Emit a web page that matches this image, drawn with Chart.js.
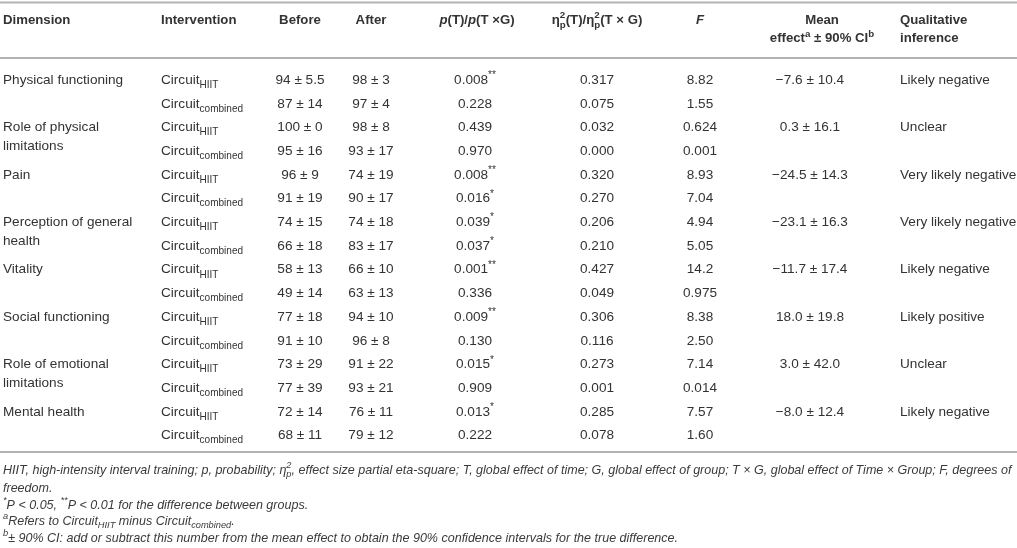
<!DOCTYPE html>
<html>
<head>
<meta charset="utf-8">
<script src="https://cdn.jsdelivr.net/npm/chart.js@4.4.1/dist/chart.umd.min.js"></script>
<style>
html,body{margin:0;padding:0;background:#fff;}
#wrap{width:1017px;height:548px;position:relative;}
canvas{display:block;}
</style>
</head>
<body>
<div id="wrap"><canvas id="c" width="1017" height="548"></canvas></div>
<script>
// ---------------- DATA ----------------
const dimensions = [
  ['Physical functioning'],
  ['Role of physical', 'limitations'],
  ['Pain'],
  ['Perception of general', 'health'],
  ['Vitality'],
  ['Social functioning'],
  ['Role of emotional', 'limitations'],
  ['Mental health']
];
const groups = ['HIIT', 'combined'];
const beforeMean = [94, 87, 100, 95, 96, 91, 74, 66, 58, 49, 77, 91, 73, 77, 72, 68];
const beforeSD   = ['5.5', '14', '0', '16', '9', '19', '15', '18', '13', '14', '18', '10', '29', '39', '14', '11'];
const afterMean  = [98, 97, 98, 93, 74, 90, 74, 83, 66, 63, 94, 96, 91, 93, 76, 79];
const afterSD    = ['3', '4', '8', '17', '19', '17', '18', '17', '10', '13', '10', '8', '22', '21', '11', '12'];
const pTime      = ['0.008', '0.228', '0.439', '0.970', '0.008', '0.016', '0.039', '0.037', '0.001', '0.336', '0.009', '0.130', '0.015', '0.909', '0.013', '0.222'];
const pStars     = ['**', '', '', '', '**', '*', '*', '*', '**', '', '**', '', '*', '', '*', ''];
const etaSq      = ['0.317', '0.075', '0.032', '0.000', '0.320', '0.270', '0.206', '0.210', '0.427', '0.049', '0.306', '0.116', '0.273', '0.001', '0.285', '0.078'];
const fValues    = ['8.82', '1.55', '0.624', '0.001', '8.93', '7.04', '4.94', '5.05', '14.2', '0.975', '8.38', '2.50', '7.14', '0.014', '7.57', '1.60'];
const meanEffect = ['\u22127.6', '0.3', '\u221224.5', '\u221223.1', '\u221211.7', '18.0', '3.0', '\u22128.0'];
const ci90       = ['10.4', '16.1', '14.3', '16.3', '17.4', '19.8', '42.0', '12.4'];
const inference  = ['Likely negative', 'Unclear', 'Very likely negative', 'Very likely negative', 'Likely negative', 'Likely positive', 'Unclear', 'Likely negative'];

// ---------------- LAYOUT / STYLE ----------------
const W = 1017, H = 548;
const FONT = '"Liberation Sans", Arial, Helvetica, sans-serif';
const TEXT = '#333333';
const RULE = '#b3b3b3';
const rowFirstPx = 79, rowStep = 23.7;           // row centres
const yMin = -rowFirstPx / rowStep;
const yMax = yMin + H / rowStep;
const toRow = px => (px - rowFirstPx) / rowStep; // header / rule positions in row units
const cols = {
  dim:   {x: 3,   align: 'left'},
  grp:   {x: 161, align: 'left'},
  bef:   {x: 300, align: 'center'},
  aft:   {x: 371, align: 'center'},
  p:     {x: 475, align: 'center', hx: 477},
  eta:   {x: 597, align: 'center', hx: 597},
  f:     {x: 700, align: 'center', hx: 700},
  mean:  {x: 810, align: 'center', hx: 822},
  inf:   {x: 900, align: 'left'}
};
const hdrLine1 = toRow(19), hdrLine2 = toRow(37.5);
const ruleTop = toRow(2.5), ruleHdr = toRow(58), ruleBot = toRow(452);
const labelLineGap = 0.79; // second line of a dimension label (row units)
const footLines = [469, 487, 504, 520, 537].map(toRow);
const BODY = 13.6, HEAD = 13.2;

// ---------------- RICH TEXT ----------------
function fontOf(p, size) {
  return (p.i ? 'italic ' : '') + (p.b ? 'bold ' : '') + size + 'px ' + FONT;
}
function normParts(segs, bold, italic) {
  return segs.map(s => typeof s === 'string' ? {t: s} : s).map(p => Object.assign({b: bold, i: italic || p.i}, p));
}
function partWidths(ctx, parts, base) {
  const small = base * 0.74;
  return parts.map(p => {
    if (p.stack) {
      ctx.font = fontOf(p, small);
      return Math.max(ctx.measureText(p.stack[0]).width, ctx.measureText(p.stack[1]).width);
    }
    ctx.font = fontOf(p, (p.sub || p.sup) ? small : base);
    return ctx.measureText(p.t).width;
  });
}
function richWidth(ctx, segs, base, bold, italic) {
  return partWidths(ctx, normParts(segs, bold, italic), base).reduce((a, b) => a + b, 0);
}
function drawRich(ctx, segs, x, y, align, base, bold, italic) {
  const small = base * 0.74;
  const parts = normParts(segs, bold, italic);
  const widths = partWidths(ctx, parts, base);
  const total = widths.reduce((a, b) => a + b, 0);
  let cx = align === 'center' ? x - total / 2 : (align === 'right' ? x - total : x);
  const baseY = y + base * 0.36;
  ctx.textAlign = 'left';
  ctx.textBaseline = 'alphabetic';
  parts.forEach((p, k) => {
    if (p.stack) {
      ctx.font = fontOf(p, small);
      ctx.fillText(p.stack[0], cx, baseY - base * 0.42);
      ctx.fillText(p.stack[1], cx, baseY + base * 0.3);
    } else if (p.sub) {
      ctx.font = fontOf(p, small);
      ctx.fillText(p.t, cx, baseY + base * 0.3);
    } else if (p.sup) {
      ctx.font = fontOf(p, small);
      ctx.fillText(p.t, cx, baseY - base * 0.42);
    } else {
      ctx.font = fontOf(p, base);
      ctx.fillText(p.t, cx, baseY);
    }
    cx += widths[k];
  });
}

// ---------------- TABLE PLUGIN ----------------
const tablePlugin = {
  id: 'tableText',
  afterDatasetsDraw(chart) {
    const ctx = chart.ctx, xs = chart.scales.x, ys = chart.scales.y;
    const X = v => xs.getPixelForValue(v), Y = v => ys.getPixelForValue(v);
    ctx.save();
    // rules
    ctx.strokeStyle = RULE; ctx.lineWidth = 2;
    [ruleTop, ruleHdr, ruleBot].forEach(r => {
      ctx.beginPath(); ctx.moveTo(xs.left, Y(r)); ctx.lineTo(xs.right, Y(r)); ctx.stroke();
    });
    ctx.fillStyle = TEXT;
    // header
    const h1 = Y(hdrLine1), h2 = Y(hdrLine2);
    drawRich(ctx, ['Dimension'], X(cols.dim.x), h1, 'left', HEAD, true);
    drawRich(ctx, ['Intervention'], X(cols.grp.x), h1, 'left', HEAD, true);
    drawRich(ctx, ['Before'], X(cols.bef.x), h1, 'center', HEAD, true);
    drawRich(ctx, ['After'], X(cols.aft.x), h1, 'center', HEAD, true);
    drawRich(ctx, [{t: 'p', i: true}, '(T)/', {t: 'p', i: true}, '(T \u00d7G)'], X(cols.p.hx), h1, 'center', HEAD, true);
    drawRich(ctx, ['\u03b7', {stack: ['2', 'p']}, '(T)/\u03b7', {stack: ['2', 'p']}, '(T \u00d7 G)'], X(cols.eta.hx), h1, 'center', HEAD, true);
    drawRich(ctx, [{t: 'F', i: true}], X(cols.f.hx), h1, 'center', HEAD, true);
    drawRich(ctx, ['Mean'], X(cols.mean.hx), h1, 'center', HEAD, true);
    drawRich(ctx, ['effect', {t: 'a', sup: true}, ' \u00b1 90% CI', {t: 'b', sup: true}], X(cols.mean.hx), h2, 'center', HEAD, true);
    drawRich(ctx, ['Qualitative'], X(cols.inf.x), h1, 'left', HEAD, true);
    drawRich(ctx, ['inference'], X(cols.inf.x), h2, 'left', HEAD, true);
    // body rows
    for (let i = 0; i < beforeMean.length; i++) {
      const y = Y(i);
      const d = Math.floor(i / 2);
      if (i % 2 === 0) {
        dimensions[d].forEach((ln, k) => drawRich(ctx, [ln], X(cols.dim.x), Y(i + k * labelLineGap), 'left', BODY));
        drawRich(ctx, [meanEffect[d] + ' \u00b1 ' + ci90[d]], X(cols.mean.x), y, 'center', BODY);
        drawRich(ctx, [inference[d]], X(cols.inf.x), y, 'left', BODY);
      }
      drawRich(ctx, ['Circuit', {t: groups[i % 2], sub: true}], X(cols.grp.x), y, 'left', BODY);
      drawRich(ctx, [beforeMean[i] + ' \u00b1 ' + beforeSD[i]], X(cols.bef.x), y, 'center', BODY);
      drawRich(ctx, [afterMean[i] + ' \u00b1 ' + afterSD[i]], X(cols.aft.x), y, 'center', BODY);
      const pSeg = [pTime[i]];
      if (pStars[i]) pSeg.push({t: pStars[i], sup: true});
      drawRich(ctx, pSeg, X(cols.p.x), y, 'center', BODY);
      drawRich(ctx, [etaSq[i]], X(cols.eta.x), y, 'center', BODY);
      drawRich(ctx, [fValues[i]], X(cols.f.x), y, 'center', BODY);
    }
    // footnotes
    const foot = [
      ['HIIT, high-intensity interval training; p, probability; \u03b7', {stack: ['2', 'p']}, ', effect size partial eta-square; T, global effect of time; G, global effect of group; T \u00d7 G, global effect of Time \u00d7 Group; F, degrees of'],
      ['freedom.'],
      [{t: '*', sup: true}, 'P < 0.05, ', {t: '**', sup: true}, 'P < 0.01 for the difference between groups.'],
      [{t: 'a', sup: true}, 'Refers to Circuit', {t: 'HIIT', sub: true}, ' minus Circuit', {t: 'combined', sub: true}, '.'],
      [{t: 'b', sup: true}, '\u00b1 90% CI: add or subtract this number from the mean effect to obtain the 90% confidence intervals for the true difference.']
    ];
    const FS = 11 * 1009 / richWidth(ctx, foot[0], 11, false, true);
    ctx.fillStyle = '#3a3a3a';
    foot.forEach((segs, k) => drawRich(ctx, segs, X(3), Y(footLines[k]), 'left', FS, false, true));
    ctx.restore();
  }
};

// ---------------- CHART ----------------
new Chart(document.getElementById('c'), {
  type: 'scatter',
  data: {
    datasets: [{
      data: beforeMean.map((v, i) => ({x: cols.bef.x, y: i})),
      pointRadius: 0,
      showLine: false
    }]
  },
  options: {
    responsive: false,
    animation: false,
    events: [],
    layout: {padding: 0},
    plugins: {legend: {display: false}, tooltip: {enabled: false}},
    scales: {
      x: {type: 'linear', display: false, min: 0, max: W},
      y: {type: 'linear', display: false, min: yMin, max: yMax, reverse: true}
    }
  },
  plugins: [tablePlugin]
});
</script>
</body>
</html>
